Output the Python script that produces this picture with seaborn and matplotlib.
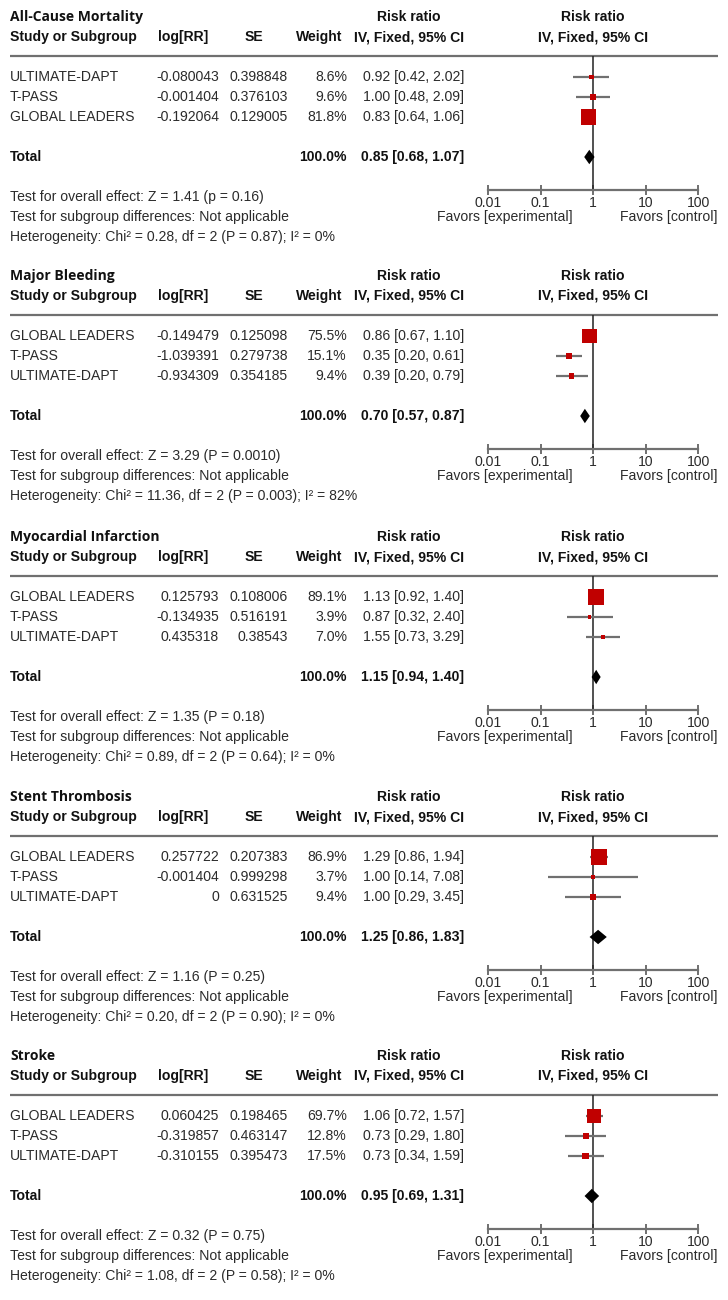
import numpy as np
import pandas as pd
import seaborn as sns
import matplotlib.pyplot as plt

sns.set_theme(style='white')
plt.rcParams['font.family'] = ['Liberation Sans', 'DejaVu Sans']

# --- data ---
titles = ['All-Cause Mortality', 'Major Bleeding', 'Myocardial Infarction',
          'Stent Thrombosis', 'Stroke']

mort_studies = ['ULTIMATE-DAPT', 'T-PASS', 'GLOBAL LEADERS']
mort_logrr = [-0.080043, -0.001404, -0.192064]
mort_se = [0.398848, 0.376103, 0.129005]
mort_weight = [8.6, 9.6, 81.8]
mort_rr = [0.92, 1.00, 0.83]
mort_lo = [0.42, 0.48, 0.64]
mort_hi = [2.02, 2.09, 1.06]
mort_total = [0.85, 0.68, 1.07]
mort_notes = ['Test for overall effect: Z = 1.41 (p = 0.16)',
              'Test for subgroup differences: Not applicable',
              'Heterogeneity: Chi² = 0.28, df = 2 (P = 0.87); I² = 0%']

bleed_studies = ['GLOBAL LEADERS', 'T-PASS', 'ULTIMATE-DAPT']
bleed_logrr = [-0.149479, -1.039391, -0.934309]
bleed_se = [0.125098, 0.279738, 0.354185]
bleed_weight = [75.5, 15.1, 9.4]
bleed_rr = [0.86, 0.35, 0.39]
bleed_lo = [0.67, 0.20, 0.20]
bleed_hi = [1.10, 0.61, 0.79]
bleed_total = [0.70, 0.57, 0.87]
bleed_notes = ['Test for overall effect: Z = 3.29 (P = 0.0010)',
               'Test for subgroup differences: Not applicable',
               'Heterogeneity: Chi² = 11.36, df = 2 (P = 0.003); I² = 82%']

mi_studies = ['GLOBAL LEADERS', 'T-PASS', 'ULTIMATE-DAPT']
mi_logrr = [0.125793, -0.134935, 0.435318]
mi_se = [0.108006, 0.516191, 0.38543]
mi_weight = [89.1, 3.9, 7.0]
mi_rr = [1.13, 0.87, 1.55]
mi_lo = [0.92, 0.32, 0.73]
mi_hi = [1.40, 2.40, 3.29]
mi_total = [1.15, 0.94, 1.40]
mi_notes = ['Test for overall effect: Z = 1.35 (P = 0.18)',
            'Test for subgroup differences: Not applicable',
            'Heterogeneity: Chi² = 0.89, df = 2 (P = 0.64); I² = 0%']

st_studies = ['GLOBAL LEADERS', 'T-PASS', 'ULTIMATE-DAPT']
st_logrr = [0.257722, -0.001404, 0]
st_se = [0.207383, 0.999298, 0.631525]
st_weight = [86.9, 3.7, 9.4]
st_rr = [1.29, 1.00, 1.00]
st_lo = [0.86, 0.14, 0.29]
st_hi = [1.94, 7.08, 3.45]
st_total = [1.25, 0.86, 1.83]
st_notes = ['Test for overall effect: Z = 1.16 (P = 0.25)',
            'Test for subgroup differences: Not applicable',
            'Heterogeneity: Chi² = 0.20, df = 2 (P = 0.90); I² = 0%']

stroke_studies = ['GLOBAL LEADERS', 'T-PASS', 'ULTIMATE-DAPT']
stroke_logrr = [0.060425, -0.319857, -0.310155]
stroke_se = [0.198465, 0.463147, 0.395473]
stroke_weight = [69.7, 12.8, 17.5]
stroke_rr = [1.06, 0.73, 0.73]
stroke_lo = [0.72, 0.29, 0.34]
stroke_hi = [1.57, 1.80, 1.59]
stroke_total = [0.95, 0.69, 1.31]
stroke_notes = ['Test for overall effect: Z = 0.32 (P = 0.75)',
                'Test for subgroup differences: Not applicable',
                'Heterogeneity: Chi² = 1.08, df = 2 (P = 0.58); I² = 0%']

ticks = [0.01, 0.1, 1, 10, 100]
tick_labels = ['0.01', '0.1', '1', '10', '100']

panels = [
    (mort_studies, mort_logrr, mort_se, mort_weight, mort_rr, mort_lo, mort_hi, mort_total, mort_notes),
    (bleed_studies, bleed_logrr, bleed_se, bleed_weight, bleed_rr, bleed_lo, bleed_hi, bleed_total, bleed_notes),
    (mi_studies, mi_logrr, mi_se, mi_weight, mi_rr, mi_lo, mi_hi, mi_total, mi_notes),
    (st_studies, st_logrr, st_se, st_weight, st_rr, st_lo, st_hi, st_total, st_notes),
    (stroke_studies, stroke_logrr, stroke_se, stroke_weight, stroke_rr, stroke_lo, stroke_hi, stroke_total, stroke_notes),
]

W, H = 728, 1300
offsets = [0, 259, 520, 780, 1039]
fs = 10.1
txt = '#2b2b2b'
dark = '#111111'
grey = '#707070'
red = '#c00000'

fig = plt.figure(figsize=(W / 100, H / 100), dpi=100)
bg = fig.add_axes([0, 0, 1, 1])
bg.set_xlim(0, W)
bg.set_ylim(H, 0)
bg.axis('off')

for title, panel, off in zip(titles, panels, offsets):
    studies, logrr, se, weight, rr, lo, hi, total, notes = panel

    # header
    bg.text(10, off + 17, title, fontsize=10, fontweight='bold',
            family=['Open Sans', 'DejaVu Sans'], va='center', color=dark)
    bg.text(409, off + 17, 'Risk ratio', fontsize=fs, fontweight='bold', ha='center', va='center', color=dark)
    bg.text(593, off + 17, 'Risk ratio', fontsize=fs, fontweight='bold', ha='center', va='center', color=dark)
    bg.text(10, off + 37, 'Study or Subgroup', fontsize=fs, fontweight='bold', va='center', color=dark)
    bg.text(158, off + 37, 'log[RR]', fontsize=fs, fontweight='bold', va='center', color=dark)
    bg.text(254, off + 37, 'SE', fontsize=fs, fontweight='bold', ha='center', va='center', color=dark)
    bg.text(342, off + 37, 'Weight', fontsize=fs, fontweight='bold', ha='right', va='center', color=dark)
    bg.text(409, off + 37, 'IV, Fixed, 95% CI', fontsize=fs, fontweight='bold', ha='center', va='center', color=dark)
    bg.text(593, off + 37, 'IV, Fixed, 95% CI', fontsize=fs, fontweight='bold', ha='center', va='center', color=dark)
    bg.plot([10, 718], [off + 56, off + 56], color=grey, lw=1.6, solid_capstyle='butt')

    # study rows
    for i in range(len(studies)):
        y = off + 77 + 20 * i
        bg.text(10, y, studies[i], fontsize=fs, va='center', color=txt)
        bg.text(219, y, str(logrr[i]), fontsize=fs, ha='right', va='center', color=txt)
        bg.text(288, y, str(se[i]), fontsize=fs, ha='right', va='center', color=txt)
        bg.text(347, y, f'{weight[i]:.1f}%', fontsize=fs, ha='right', va='center', color=txt)
        bg.text(464, y, f'{rr[i]:.2f} [{lo[i]:.2f}, {hi[i]:.2f}]', fontsize=fs, ha='right', va='center', color=txt)

    y = off + 157
    bg.text(10, y, 'Total', fontsize=fs, fontweight='bold', va='center', color=dark)
    bg.text(347, y, f'{sum(weight):.1f}%', fontsize=fs, fontweight='bold', ha='right', va='center', color=dark)
    bg.text(464, y, f'{total[0]:.2f} [{total[1]:.2f}, {total[2]:.2f}]', fontsize=fs,
            fontweight='bold', ha='right', va='center', color=dark)

    for j, note in enumerate(notes):
        bg.text(10, off + 197 + 20 * j, note, fontsize=fs, va='center', color=txt)

    bg.text(573, off + 217, 'Favors [experimental]', fontsize=fs, ha='right', va='center', color=txt)
    bg.text(717, off + 217, 'Favors [control]', fontsize=fs, ha='right', va='center', color=txt)

    # forest part
    top, bottom = off + 56, off + 190
    ax = fig.add_axes([488 / W, 1 - bottom / H, 210 / W, (bottom - top) / H])
    ax.patch.set_alpha(0)
    df = pd.DataFrame({'rr': rr, 'lo': lo, 'hi': hi, 'weight': weight,
                       'row': np.arange(1, len(studies) + 1)})
    ax.axvline(1, color='#222222', lw=1.1, zorder=1)
    ax.hlines(df['row'], df['lo'], df['hi'], color=grey, lw=1.6, zorder=2)
    sns.scatterplot(data=df, x='rr', y='row', size='weight', sizes=(0, 145),
                    size_norm=(0, 100), marker='s', color=red, linewidth=0,
                    legend=False, zorder=3, ax=ax)
    trow = 5
    h = 0.36
    ax.fill([total[1], total[0], total[2], total[0]],
            [trow, trow - h, trow, trow + h], color='black', lw=0, zorder=4)
    ax.set_xscale('log')
    ax.set_xlim(0.01, 100)
    ax.set_ylim(6.65, -0.05)
    ax.set_xticks(ticks)
    ax.set_xticklabels(tick_labels)
    ax.minorticks_off()
    ax.set_yticks([])
    ax.set_xlabel('')
    ax.set_ylabel('')
    for s in ['top', 'left', 'right']:
        ax.spines[s].set_visible(False)
    ax.spines['bottom'].set_color(grey)
    ax.spines['bottom'].set_linewidth(1.6)
    ax.tick_params(axis='x', direction='inout', length=7, width=1.4, color=grey,
                   labelsize=fs, labelcolor=txt, pad=1, bottom=True)

fig.savefig('out.png', dpi=100)
